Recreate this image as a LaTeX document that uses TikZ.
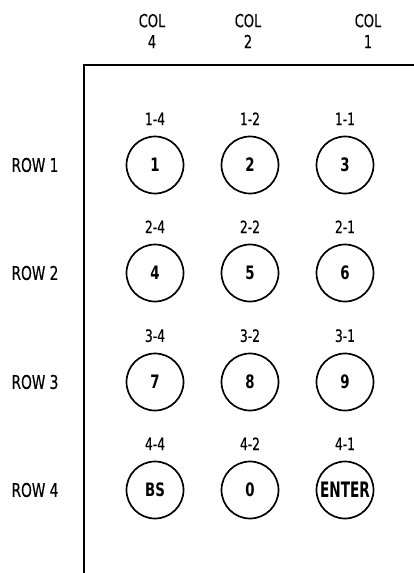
\documentclass[tikz,border=0pt]{standalone}
\usepackage{fontspec}
\setmainfont{DejaVu Sans Condensed}[FakeStretch=0.8,UprightFeatures={FakeBold=0.4}]
\usetikzlibrary{positioning}
\tikzset{every node/.style={font=\fontsize{18}{20}\selectfont},key/.style={draw,circle,line width=1.7pt,minimum size=57pt,inner sep=0pt,font=\fontsize{18.5}{20}\selectfont\bfseries},tag/.style={label distance=7pt,font=\fontsize{17}{18}\selectfont},frame/.style={line width=2.6pt}}
\newcommand{\Enter}{\scalebox{1.02}[1.15]{ENTER}}
\begin{document}
\begin{tikzpicture}[x=1pt,y=-1pt]
\useasboundingbox (0,0) rectangle (414,573);
\draw[frame] (414,65) coordinate (tr)--(84,65) coordinate (tl)--(84,573) coordinate (bl);
\foreach \c/\cx in {4/152,2/248,1/368}{
\node[align=center,font=\fontsize{18}{21}\selectfont] (col\c) at (\cx,31){COL\\\c};}
\foreach \r/\y in {1/165,2/273,3/382,4/490}{\node[font=\fontsize{19}{21}\selectfont] (row\r) at (35,\y){ROW \r};}
\foreach \r/\y/\ka/\kb/\kc in {1/165/1/2/3,2/273/4/5/6,3/382/7/8/9,4/490/BS/0/\Enter}{
\node[key,label={[tag]above:\r-4}] (k\r4) at (155,\y){\ka};
\node[key,label={[tag]above:\r-2}] (k\r2) at (250,\y){\kb};
\node[key,label={[tag]above:\r-1}] (k\r1) at (345,\y){\kc};}
\end{tikzpicture}
\end{document}
